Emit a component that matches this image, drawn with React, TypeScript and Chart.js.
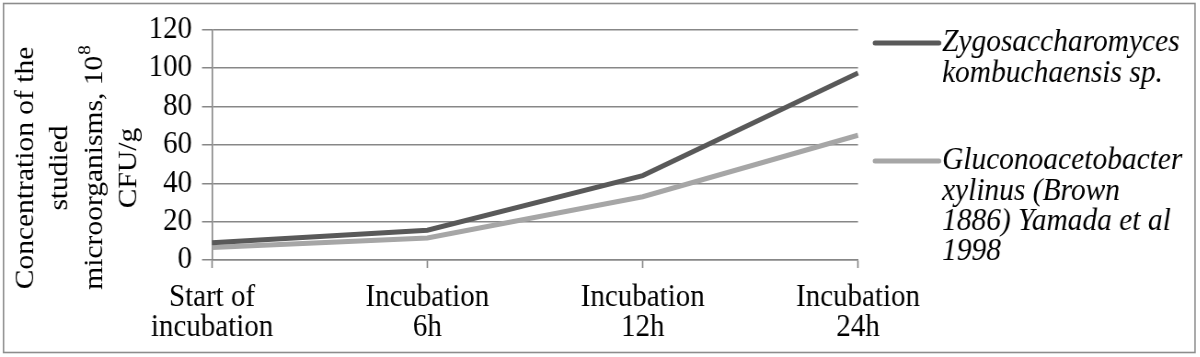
import React, { useEffect, useRef } from "react";
import { Chart, registerables } from "chart.js";

Chart.register(...registerables);

// ---------- data ----------
const CATEGORIES: string[][] = [
  ["Start of", "incubation"],
  ["Incubation", "6h"],
  ["Incubation", "12h"],
  ["Incubation", "24h"],
];
const ZYGO_VALUES = [9, 15.5, 44, 97.5];
const GLUCO_VALUES = [6.5, 11.5, 33, 65];
const SERIES_NAMES = [
  "Zygosaccharomyces kombuchaensis sp.",
  "Gluconoacetobacter xylinus (Brown 1886) Yamada et al 1998",
];
const SERIES_LEGEND_LINES: string[][] = [
  ["Zygosaccharomyces", "kombuchaensis sp."],
  ["Gluconoacetobacter", "xylinus (Brown", "1886) Yamada et al", "1998"],
];
const Y_TITLE_LINES = ["Concentration of the", "studied", "microorganisms, 10", "CFU/g"];
const Y_TITLE_SUPERSCRIPT = "8";
const Y_MIN = 0;
const Y_MAX = 120;
const Y_STEP = 20;

// ---------- style / layout ----------
// The reference text is slightly narrower than it is tall, so the canvas is
// drawn wider and squeezed horizontally.
const SX = 0.92;
const OUT_W = 1200;
const OUT_H = 357;
const CW = Math.round(OUT_W / SX);
const X = (v: number) => v / SX; // reference x -> canvas x

const FONT = "'Liberation Serif', 'Times New Roman', serif";
const FONT_SIZE = 31.5;
const LEGEND_FONT_SIZE = 32;
const DARK = "#595959";
const LIGHT = "#a6a6a6";
const GRID = "#878787";

const borderPlugin = {
  id: "outerBorder",
  beforeDraw(chart: any) {
    const ctx = chart.ctx;
    ctx.save();
    ctx.fillStyle = "#ffffff";
    ctx.fillRect(0, 0, chart.width, chart.height);
    ctx.strokeStyle = "#8c8c8c";
    ctx.lineWidth = 1.6;
    ctx.strokeRect(X(3.5), 3.5, X(1195) - X(3.5), 349);
    ctx.restore();
  },
};

const yTitlePlugin = {
  id: "yTitle",
  afterDraw(chart: any) {
    const ctx = chart.ctx;
    ctx.save();
    ctx.fillStyle = "#000";
    const cy = 168;
    const titleSize = 29.5;
    Y_TITLE_LINES.forEach((line, i) => {
      const cx = X(26 + i * 34.3);
      ctx.save();
      ctx.translate(cx, cy);
      ctx.rotate(-Math.PI / 2);
      ctx.textBaseline = "middle";
      ctx.font = `${titleSize}px ${FONT}`;
      const w1 = ctx.measureText(line).width;
      let w2 = 0;
      const hasSup = i === 2;
      const supFont = `${Math.round(titleSize * 0.65)}px ${FONT}`;
      if (hasSup) {
        ctx.font = supFont;
        w2 = ctx.measureText(Y_TITLE_SUPERSCRIPT).width;
      }
      const start = -(w1 + w2) / 2;
      ctx.textAlign = "left";
      ctx.font = `${titleSize}px ${FONT}`;
      ctx.fillText(line, start, 0);
      if (hasSup) {
        ctx.font = supFont;
        ctx.fillText(Y_TITLE_SUPERSCRIPT, start + w1 + 1, -10);
      }
      ctx.restore();
    });
    ctx.restore();
  },
};

const legendPlugin = {
  id: "customLegend",
  afterDraw(chart: any) {
    const ctx = chart.ctx;
    const blockTops = [43, 161];
    const lineGap = 30.3;
    ctx.save();
    chart.data.datasets.forEach((ds: any, i: number) => {
      const y = blockTops[i];
      ctx.strokeStyle = ds.borderColor;
      ctx.lineWidth = 5;
      ctx.lineCap = "round";
      ctx.beginPath();
      ctx.moveTo(X(875), y);
      ctx.lineTo(X(939), y);
      ctx.stroke();
      ctx.fillStyle = "#000";
      ctx.font = `italic ${LEGEND_FONT_SIZE}px ${FONT}`;
      ctx.textAlign = "left";
      ctx.textBaseline = "middle";
      SERIES_LEGEND_LINES[i].forEach((t, j) => {
        ctx.fillText(t, X(942), y + j * lineGap);
      });
    });
    ctx.restore();
  },
};

export default function App() {
  const ref = useRef<HTMLCanvasElement | null>(null);
  useEffect(() => {
    document.body.style.margin = "0";
    if (!ref.current) return;
    const chart = new Chart(ref.current, {
      type: "line",
      data: {
        labels: CATEGORIES,
        datasets: [
          {
            label: SERIES_NAMES[0],
            data: ZYGO_VALUES,
            borderColor: DARK,
            backgroundColor: DARK,
            borderWidth: 5,
            pointRadius: 0,
            tension: 0,
          },
          {
            label: SERIES_NAMES[1],
            data: GLUCO_VALUES,
            borderColor: LIGHT,
            backgroundColor: LIGHT,
            borderWidth: 5,
            pointRadius: 0,
            tension: 0,
          },
        ],
      },
      options: {
        animation: false,
        responsive: true,
        maintainAspectRatio: false,
        devicePixelRatio: 1,
        layout: {
          padding: { top: 20, right: CW - X(858), left: 0, bottom: 0 },
        },
        plugins: {
          legend: { display: false },
          tooltip: { enabled: false },
          title: { display: false },
        },
        scales: {
          x: {
            type: "category",
            offset: false,
            grid: {
              display: true,
              drawOnChartArea: false,
              drawTicks: true,
              tickLength: 8,
              tickWidth: 1.6,
              tickColor: GRID,
            },
            border: { display: true, color: GRID, width: 1.5 },
            ticks: {
              color: "#000",
              font: { family: FONT, size: FONT_SIZE, lineHeight: 0.94 },
              padding: 15,
              maxRotation: 0,
              autoSkip: false,
            },
            afterFit(scale: any) {
              scale.height = OUT_H - 260;
            },
          },
          y: {
            min: Y_MIN,
            max: Y_MAX,
            ticks: {
              stepSize: Y_STEP,
              autoSkip: false,
              color: "#000",
              font: { family: FONT, size: FONT_SIZE },
              padding: X(10),
            },
            grid: {
              color: GRID,
              lineWidth: 1.5,
              drawTicks: true,
              tickLength: X(10),
            },
            border: { display: true, color: GRID, width: 1.6 },
            afterFit(scale: any) {
              scale.width = X(212);
            },
          },
        },
      },
      plugins: [borderPlugin, yTitlePlugin, legendPlugin],
    });
    return () => chart.destroy();
  }, []);
  return (
    <div
      style={{
        position: "absolute",
        left: 0,
        top: 0,
        width: OUT_W,
        height: OUT_H,
        overflow: "hidden",
      }}
    >
      <div
        style={{
          width: CW,
          height: OUT_H,
          transform: `scaleX(${SX})`,
          transformOrigin: "0 0",
        }}
      >
        <canvas ref={ref} />
      </div>
    </div>
  );
}
